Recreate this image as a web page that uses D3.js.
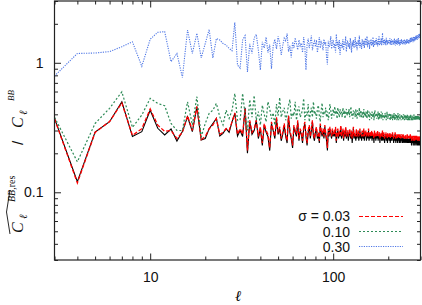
<!DOCTYPE html>
<html lang="en">
<head>
    <meta charset="UTF-8">
    <title>BB residual ratio</title>
    <script src="https://d3js.org/d3.v7.min.js"></script>
    <style>
        body { margin: 0; background: #fff; }
        .tick text { font-family: "Liberation Sans", Arial, sans-serif; font-size: 14px; fill: #111; }
        .domain { display: none; }
        .tick line { stroke: #222; stroke-width: 1; }
        .curve { fill: none; }
    </style>
</head>
<body>
<div id="chart"></div>
<script>
    // multipoles, l = 3 ... 300
    const ell = d3.range(3, 301);

    // ratio for the noise-free case (solid black)
    const ratioNone = [
        0.372,0.121,0.292,0.351,0.50,0.27,0.294,0.43,0.312,0.277,0.308,0.249,0.294,0.383,0.294,0.458,0.253,0.26,0.31,0.34,0.372,0.272,0.285,0.31,0.29,0.35,0.407,0.272,
        0.30,0.27,0.45,0.20,0.35,0.28,0.30,0.36,0.26,0.31,
        0.23,0.33,0.29,0.27,0.21,0.34,0.30,0.26,0.37,0.28,
        0.31,0.25,0.28,0.33,0.27,0.24,0.39,0.29,0.26,0.22,
        0.32,0.29,0.27,0.35,0.25,0.30,0.28,0.24,0.31,0.34,
        0.27,0.23,0.29,0.32,0.26,0.30,0.35,0.27,0.25,0.29,
        0.31,0.26,0.28,0.24,0.33,0.29,0.27,0.30,0.26,0.32,
        0.28,0.25,0.21,0.30,0.27,0.31,0.28,0.26,0.30,0.27,
        0.29,0.27,0.31,0.24,0.28,0.30,0.26,0.29,0.27,0.32,
        0.26,0.28,0.30,0.25,0.29,0.27,0.31,0.26,0.28,0.29,
        0.25,0.28,0.30,0.27,0.26,0.29,0.24,0.28,0.31,0.26,
        0.28,0.27,0.25,0.30,0.26,0.28,0.29,0.25,0.27,0.30,
        0.26,0.28,0.25,0.29,0.27,0.26,0.30,0.25,0.28,0.27,
        0.29,0.25,0.27,0.28,0.26,0.30,0.25,0.27,0.28,0.26,
        0.27,0.29,0.25,0.28,0.26,0.27,0.24,0.29,0.26,0.28,
        0.25,0.27,0.28,0.26,0.29,0.25,0.27,0.26,0.28,0.24,
        0.27,0.26,0.28,0.25,0.27,0.29,0.25,0.26,0.28,0.26,
        0.24,0.27,0.26,0.28,0.25,0.27,0.26,0.24,0.28,0.26,
        0.27,0.25,0.26,0.28,0.24,0.27,0.26,0.25,0.27,0.26,
        0.28,0.25,0.26,0.24,0.27,0.26,0.25,0.28,0.26,0.24,
        0.26,0.27,0.25,0.26,0.24,0.27,0.26,0.25,0.27,0.24,
        0.26,0.25,0.27,0.24,0.26,0.25,0.27,0.26,0.24,0.26,
        0.25,0.27,0.24,0.26,0.25,0.26,0.24,0.27,0.25,0.26,
        0.24,0.26,0.25,0.27,0.24,0.26,0.25,0.24,0.26,0.25,
        0.26,0.24,0.25,0.27,0.24,0.26,0.25,0.23,0.26,0.25,
        0.24,0.26,0.25,0.23,0.26,0.25,0.24,0.26,0.23,0.25,
        0.26,0.24,0.25,0.23,0.25,0.26,0.24,0.25,0.23,0.26,
        0.24,0.25,0.23,0.26,0.24,0.25,0.23,0.25,0.24,0.25
    ];

    // sigma = 0.03
    const ratio003 = [
        0.37,0.118,0.29,0.352,0.49,0.275,0.31,0.44,0.33,0.295,0.30,0.26,0.29,0.39,0.30,0.46,0.255,0.27,0.31,0.33,0.37,0.28,0.29,0.31,0.30,0.35,0.41,0.28,
        0.31,0.28,0.44,0.21,0.36,0.29,0.31,0.36,0.27,0.32,
        0.24,0.34,0.30,0.28,0.22,0.35,0.30,0.27,0.38,0.29,
        0.32,0.26,0.29,0.34,0.28,0.25,0.39,0.30,0.27,0.23,
        0.33,0.30,0.28,0.36,0.26,0.31,0.29,0.25,0.32,0.35,
        0.28,0.24,0.30,0.33,0.27,0.31,0.36,0.28,0.26,0.30,
        0.32,0.27,0.29,0.25,0.34,0.30,0.28,0.31,0.27,0.33,
        0.29,0.26,0.22,0.31,0.28,0.32,0.29,0.27,0.31,0.28,
        0.30,0.28,0.32,0.25,0.29,0.31,0.27,0.30,0.28,0.33,
        0.27,0.29,0.31,0.26,0.30,0.28,0.32,0.27,0.29,0.30,
        0.27,0.29,0.31,0.28,0.27,0.30,0.26,0.29,0.32,0.27,
        0.29,0.28,0.27,0.31,0.27,0.29,0.30,0.27,0.28,0.31,
        0.28,0.29,0.27,0.30,0.28,0.27,0.31,0.27,0.29,0.28,
        0.30,0.27,0.28,0.29,0.27,0.31,0.27,0.28,0.29,0.27,
        0.28,0.30,0.27,0.29,0.28,0.28,0.26,0.30,0.27,0.29,
        0.27,0.28,0.29,0.27,0.30,0.27,0.28,0.27,0.29,0.26,
        0.28,0.27,0.29,0.27,0.28,0.30,0.27,0.27,0.29,0.27,
        0.26,0.28,0.27,0.29,0.27,0.28,0.27,0.26,0.29,0.27,
        0.28,0.27,0.27,0.29,0.26,0.28,0.27,0.27,0.28,0.27,
        0.29,0.27,0.27,0.26,0.28,0.27,0.27,0.29,0.27,0.26,
        0.27,0.28,0.27,0.27,0.26,0.28,0.27,0.27,0.28,0.26,
        0.27,0.27,0.28,0.26,0.27,0.27,0.28,0.27,0.26,0.27,
        0.27,0.28,0.26,0.27,0.27,0.27,0.26,0.28,0.27,0.27,
        0.26,0.27,0.27,0.28,0.26,0.27,0.27,0.26,0.27,0.27,
        0.27,0.26,0.27,0.28,0.26,0.27,0.27,0.25,0.27,0.27,
        0.26,0.27,0.27,0.25,0.27,0.27,0.26,0.27,0.25,0.27,
        0.27,0.26,0.27,0.25,0.27,0.27,0.26,0.27,0.25,0.27,
        0.26,0.27,0.25,0.27,0.26,0.27,0.25,0.27,0.26,0.27
    ];

    // sigma = 0.10
    const ratio010 = [
        0.38,0.172,0.34,0.445,0.597,0.317,0.395,0.531,0.486,0.466,0.34,0.30,0.30,0.50,0.331,0.547,0.268,0.34,0.407,0.43,0.486,0.383,0.331,0.43,0.372,0.43,0.58,0.36,
        0.36,0.58,0.40,0.30,0.52,0.38,0.56,0.36,0.42,0.33,
        0.47,0.40,0.35,0.50,0.44,0.37,0.41,0.33,0.48,0.39,
        0.54,0.38,0.42,0.45,0.36,0.40,0.47,0.52,0.37,0.41,
        0.39,0.50,0.36,0.43,0.46,0.38,0.40,0.44,0.53,0.36,
        0.42,0.39,0.48,0.35,0.41,0.45,0.38,0.50,0.40,0.42,
        0.37,0.44,0.47,0.39,0.35,0.43,0.49,0.38,0.41,0.40,
        0.45,0.38,0.42,0.36,0.40,0.48,0.43,0.37,0.41,0.44,
        0.39,0.46,0.40,0.43,0.37,0.45,0.41,0.38,0.44,0.40,
        0.42,0.38,0.45,0.40,0.43,0.37,0.41,0.44,0.39,0.42,
        0.40,0.44,0.38,0.42,0.46,0.39,0.41,0.37,0.43,0.40,
        0.42,0.38,0.44,0.40,0.37,0.43,0.41,0.39,0.45,0.38,
        0.41,0.43,0.38,0.40,0.42,0.37,0.44,0.39,0.41,0.38,
        0.42,0.39,0.37,0.43,0.40,0.38,0.42,0.36,0.41,0.39,
        0.40,0.37,0.42,0.39,0.38,0.41,0.36,0.40,0.43,0.38,
        0.39,0.41,0.37,0.40,0.38,0.42,0.36,0.39,0.41,0.37,
        0.40,0.38,0.42,0.37,0.39,0.41,0.36,0.40,0.38,0.39,
        0.37,0.41,0.38,0.40,0.36,0.39,0.42,0.37,0.39,0.38,
        0.40,0.37,0.39,0.41,0.36,0.38,0.40,0.37,0.39,0.38,
        0.36,0.40,0.38,0.37,0.41,0.38,0.36,0.39,0.40,0.37,
        0.38,0.40,0.36,0.39,0.37,0.41,0.38,0.36,0.39,0.37,
        0.40,0.38,0.37,0.39,0.36,0.40,0.38,0.37,0.39,0.36,
        0.38,0.40,0.37,0.39,0.36,0.38,0.40,0.37,0.38,0.36,
        0.39,0.37,0.38,0.40,0.36,0.38,0.37,0.39,0.36,0.38,
        0.37,0.39,0.36,0.38,0.40,0.37,0.38,0.36,0.39,0.37,
        0.38,0.36,0.39,0.37,0.38,0.40,0.36,0.38,0.37,0.39,
        0.36,0.38,0.37,0.39,0.36,0.38,0.37,0.39,0.36,0.38,
        0.37,0.39,0.36,0.38,0.37,0.38,0.36,0.39,0.37,0.38
    ];

    // sigma = 0.30
    const ratio030 = [
        0.79,1.18,1.19,1.22,1.33,1.45,0.94,1.52,1.72,1.74,1.02,1.18,0.77,1.79,1.18,1.69,1.09,1.41,1.81,1.09,1.54,1.50,1.41,1.37,1.29,1.24,2.05,0.96,
        0.91,1.50,1.62,0.85,1.40,1.18,1.55,1.66,1.25,0.88,
        1.45,1.30,1.58,1.20,1.38,0.90,1.35,1.52,1.28,1.60,
        1.42,1.15,1.36,1.55,1.48,1.68,1.22,1.35,1.10,1.45,
        1.30,1.56,1.40,1.26,1.50,1.35,1.42,1.20,1.58,1.32,
        0.88,1.38,1.54,1.30,1.44,1.62,1.25,1.40,1.47,1.33,
        1.50,1.20,1.36,1.58,1.30,1.45,1.40,1.25,1.52,1.38,
        1.44,1.12,0.97,1.48,1.32,1.40,1.60,1.28,1.42,1.50,
        1.30,1.40,1.20,1.66,1.35,1.45,1.28,1.50,1.15,1.42,
        1.38,1.30,1.52,1.25,1.45,1.36,1.60,1.22,1.40,1.48,
        1.33,1.42,1.28,1.55,1.38,1.20,1.46,1.35,1.50,1.30,
        1.40,1.58,1.32,1.45,1.25,1.42,1.50,1.36,1.62,1.30,
        1.44,1.38,1.28,1.52,1.40,1.35,1.48,1.30,1.45,1.55,
        1.36,1.42,1.60,1.32,1.46,1.38,1.50,1.28,1.44,1.40,
        1.52,1.35,1.45,1.38,1.58,1.32,1.48,1.40,1.36,1.50,
        1.42,1.55,1.38,1.46,1.34,1.52,1.40,1.62,1.36,1.44,
        1.48,1.40,1.55,1.36,1.46,1.70,1.42,1.50,1.38,1.45,
        1.52,1.40,1.48,1.36,1.56,1.44,1.50,1.38,1.46,1.42,
        1.50,1.40,1.45,1.55,1.38,1.48,1.42,1.52,1.36,1.46,
        1.44,1.50,1.40,1.48,1.38,1.54,1.42,1.46,1.36,1.50,
        1.45,1.40,1.52,1.38,1.48,1.42,1.55,1.40,1.46,1.36,
        1.44,1.50,1.38,1.46,1.42,1.52,1.40,1.48,1.44,1.38,
        1.50,1.42,1.46,1.40,1.52,1.44,1.38,1.48,1.42,1.50,
        1.46,1.40,1.54,1.44,1.48,1.42,1.50,1.45,1.40,1.52,
        1.46,1.50,1.42,1.56,1.48,1.44,1.52,1.46,1.58,1.50,
        1.48,1.55,1.44,1.52,1.60,1.46,1.54,1.50,1.58,1.48,
        1.56,1.50,1.62,1.52,1.58,1.54,1.64,1.50,1.60,1.56,
        1.62,1.54,1.66,1.58,1.60,1.56,1.68,1.60,1.64,1.62
    ];

    const legendLabels = ["\u03c3 = 0.03", "0.10", "0.30"];
    const xMajor = [10, 100];
    const xMinor = [3, 4, 5, 6, 7, 8, 9, 20, 30, 40, 50, 60, 70, 80, 90, 200, 300];
    const yMajor = [0.1, 1];
    const yMinor = [0.03, 0.04, 0.05, 0.06, 0.07, 0.08, 0.09, 0.2, 0.3, 0.4, 0.5, 0.6, 0.7, 0.8, 0.9, 2, 3];

    const W = 422, H = 305;
    const margin = {top: 1, right: 1.5, bottom: 45, left: 54.5},
        width = W - margin.left - margin.right,
        height = H - margin.top - margin.bottom;

    const svg = d3.select("#chart").append("svg")
        .attr("width", W)
        .attr("height", H);

    const g = svg.append("g")
        .attr("transform", "translate(" + margin.left + "," + margin.top + ")");

    const x = d3.scaleLog().domain([3, 300]).range([0, width]);
    const y = d3.scaleLog().domain([0.03, 3]).range([height, 0]);

    // ticks on all four sides, pointing inward
    function ticks(axisFn, vals, len, labels) {
        return axisFn.tickValues(vals).tickSizeInner(-len).tickSizeOuter(0)
            .tickFormat(labels ? d3.format("") : "");
    }
    g.append("g").attr("transform", "translate(0," + height + ")")
        .call(ticks(d3.axisBottom(x), xMinor, 3.5, false));
    g.append("g").attr("transform", "translate(0," + height + ")")
        .call(ticks(d3.axisBottom(x), xMajor, 6.5, true).tickPadding(12));
    g.append("g").call(ticks(d3.axisTop(x), xMinor, 3.5, false));
    g.append("g").call(ticks(d3.axisTop(x), xMajor, 6.5, false));
    g.append("g").call(ticks(d3.axisLeft(y), yMinor, 3.5, false));
    g.append("g").call(ticks(d3.axisLeft(y), yMajor, 6.5, true).tickPadding(11));
    g.append("g").attr("transform", "translate(" + width + ",0)")
        .call(ticks(d3.axisRight(y), yMinor, 3.5, false));
    g.append("g").attr("transform", "translate(" + width + ",0)")
        .call(ticks(d3.axisRight(y), yMajor, 6.5, false));

    const series = [
        {vals: ratioNone, color: "#000000", dash: null, w: 1.1},
        {vals: ratio003, color: "#ff0000", dash: "4,2", w: 1.3},
        {vals: ratio010, color: "#2e8b57", dash: "2,2", w: 1.2},
        {vals: ratio030, color: "#5078e6", dash: "1.2,1.2", w: 1.1}
    ];

    const line = d3.line()
        .x(function(d) { return x(d[0]); })
        .y(function(d) { return y(d[1]); });

    const plot = g.append("g");
    series.forEach(function(s) {
        plot.append("path")
            .datum(ell.map(function(l, i) { return [l, s.vals[i]]; }))
            .attr("class", "curve")
            .attr("stroke", s.color)
            .attr("stroke-width", s.w)
            .attr("stroke-dasharray", s.dash)
            .attr("d", line);
    });

    // frame
    g.append("rect")
        .attr("width", width).attr("height", height)
        .attr("fill", "none").attr("stroke", "#222").attr("stroke-width", 1.2);

    // legend
    const legend = svg.append("g").attr("font-family", "Liberation Sans, Arial, sans-serif")
        .attr("font-size", 14).attr("fill", "#111");
    const legendY = [216.5, 231.5, 246.5];
    series.slice(1).forEach(function(s, i) {
        legend.append("text")
            .attr("x", 350).attr("y", 221 + i * 15.5)
            .attr("text-anchor", "end")
            .text(legendLabels[i]);
        legend.append("line")
            .attr("x1", 359).attr("x2", 403)
            .attr("y1", legendY[i]).attr("y2", legendY[i])
            .attr("stroke", s.color).attr("stroke-width", 1)
            .attr("stroke-dasharray", s.dash);
    });

    // x label
    svg.append("text")
        .attr("x", 238).attr("y", 301)
        .attr("text-anchor", "middle")
        .attr("font-family", "Liberation Serif, serif").attr("font-style", "italic")
        .attr("font-size", 15).text("\u2113");

    // y label, rotated: hat C_l^{BB,res} / C_l^{BB}, gnuplot-style sequential sub/sup
    const yl = svg.append("g").attr("transform", "translate(23,236) rotate(-90)")
        .attr("font-family", "Liberation Serif, serif").attr("fill", "#111");
    yl.append("text").attr("x", 3).attr("y", 0).attr("font-size", 16).attr("font-style", "italic").text("C");
    yl.append("path").attr("d", "M2,-13 L24,-16.5 L46,-13").attr("fill", "none").attr("stroke", "#111").attr("stroke-width", 0.9);
    yl.append("text").attr("x", 17).attr("y", 4).attr("font-size", 11).attr("font-style", "italic").text("\u2113");
    const sup = yl.append("text").attr("x", 34).attr("y", -8).attr("font-size", 10);
    sup.append("tspan").attr("font-style", "italic").text("BB");
    sup.append("tspan").text(",res");
    yl.append("text").attr("x", 91).attr("y", 0).attr("font-size", 15).attr("font-family", "Liberation Sans, Arial, sans-serif").text("/");
    yl.append("text").attr("x", 108).attr("y", 0).attr("font-size", 16).attr("font-style", "italic").text("C");
    yl.append("text").attr("x", 121).attr("y", 4).attr("font-size", 11).attr("font-style", "italic").text("\u2113");
    yl.append("text").attr("x", 135).attr("y", -9).attr("font-size", 9).attr("font-style", "italic").text("BB");
</script>
</body>
</html>
